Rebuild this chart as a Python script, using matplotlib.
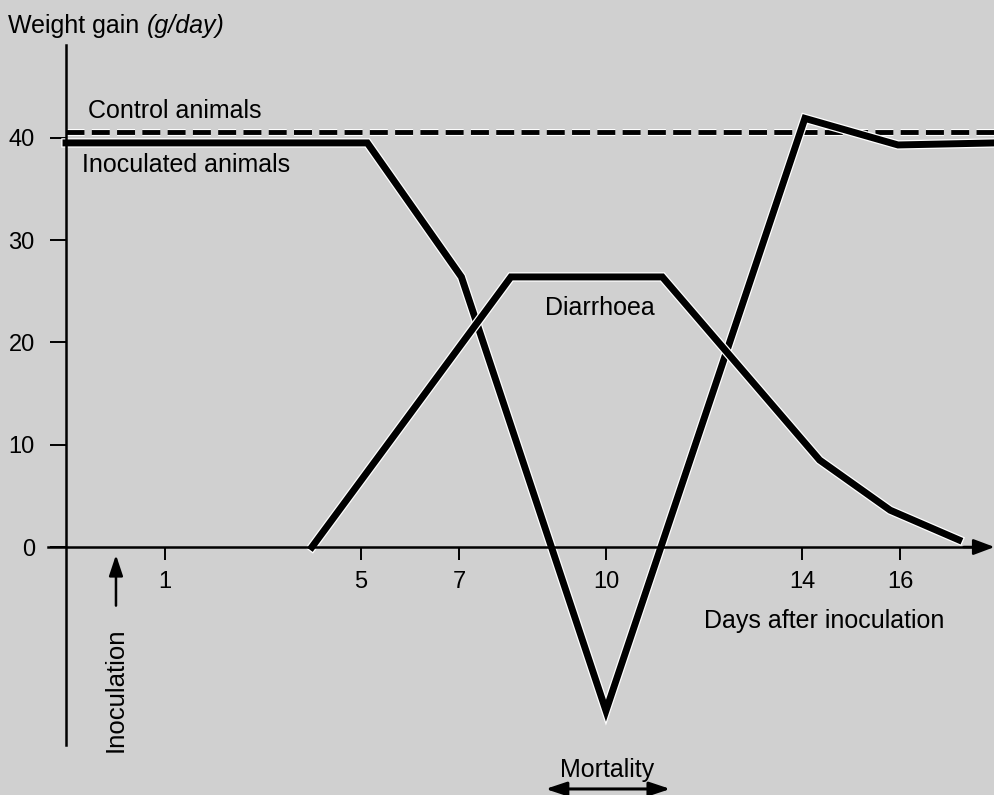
import matplotlib.pyplot as plt
import matplotlib.patheffects as pe

# data (days after inoculation, weight gain g/day)
dias_inoc = [-1.02, 5.13, 7.05, 10.0, 14.06, 15.96, 17.94]
ganho_inoc = [39.5, 39.5, 26.4, -16.0, 41.9, 39.3, 39.5]

dias_diar = [4.0, 8.06, 11.15, 14.36, 15.8, 17.2]
ganho_diar = [0.0, 26.4, 26.4, 8.5, 3.6, 0.7]

dias_ctrl = [-1.02, 17.94]
ganho_ctrl = [40.6, 40.6]

xticks = [1, 5, 7, 10, 14, 16]
yticks = [0, 10, 20, 30, 40]

fundo = '#d0d0d0'
plt.rcParams['font.family'] = ['Liberation Sans', 'DejaVu Sans']

fig = plt.figure(figsize=(9.95, 7.95), dpi=100, facecolor=fundo)
ax = fig.add_axes([0, 0, 1, 1], facecolor=fundo)
ax.set_xlim(-2.367, 17.94)
ax.set_ylim(-24.24, 53.47)

halo = [pe.Stroke(linewidth=6.8, foreground='white'), pe.Normal()]

# curves
ax.plot(dias_ctrl, ganho_ctrl, color='k', lw=3.5, dashes=(3.7, 1.5),
        path_effects=[pe.Stroke(linewidth=5, foreground='white'), pe.Normal()])
ax.plot(dias_inoc, ganho_inoc, color='k', lw=5, solid_joinstyle='miter',
        path_effects=halo)
ax.plot(dias_diar, ganho_diar, color='k', lw=5, solid_joinstyle='miter',
        path_effects=halo)

# axes drawn like the book figure
for s in ['top', 'right']:
    ax.spines[s].set_visible(False)
ax.spines['left'].set_position(('data', -1.02))
ax.spines['left'].set_bounds(-19.4, 49.1)
ax.spines['bottom'].set_position(('data', 0))
ax.spines['bottom'].set_bounds(-1.39, 17.6)
ax.spines['left'].set_linewidth(1.8)
ax.spines['bottom'].set_linewidth(1.8)

ax.set_xticks(xticks)
ax.set_yticks(yticks)
ax.tick_params(axis='y', direction='out', length=11.5, width=1.4, pad=11,
               labelsize=17)
ax.tick_params(axis='x', direction='out', length=9, width=1.4, pad=8,
               labelsize=17)

# arrow at end of x axis
ax.annotate('', xy=(17.93, 0), xytext=(17.3, 0), annotation_clip=False,
            arrowprops=dict(arrowstyle='-|>,head_length=0.8,head_width=0.3',
                            lw=1.8, color='k', mutation_scale=16,
                            shrinkA=0, shrinkB=0))

# labels
ax.text(-2.2, 50.24, 'Weight gain ', fontsize=18, va='baseline', ha='left')
ax.text(0.62, 50.24, '(g/day)', fontsize=18, va='baseline', ha='left',
        style='italic')
ax.text(-0.57, 41.94, 'Control animals', fontsize=18, va='baseline')
ax.text(-0.69, 36.66, 'Inoculated animals', fontsize=18, va='baseline')
ax.text(8.76, 22.68, 'Diarrhoea', fontsize=18, va='baseline')
ax.text(12.0, -7.92, 'Days after inoculation', fontsize=18, va='baseline')
ax.text(10.02, -22.48, 'Mortality', fontsize=18, va='baseline', ha='center')
ax.text(0.0, -13.98, 'Inoculation', fontsize=18.5, rotation=90,
        ha='center', va='center')

# inoculation arrow
ax.annotate('', xy=(0, -0.5), xytext=(0, -6.0),
            arrowprops=dict(arrowstyle='-|>,head_length=0.9,head_width=0.3',
                            lw=1.8, color='k', mutation_scale=14))

# mortality double arrow
ax.annotate('', xy=(8.71, -23.65), xytext=(11.37, -23.65),
            annotation_clip=False,
            arrowprops=dict(arrowstyle='<|-|>,head_length=0.9,head_width=0.3',
                            lw=2.2, color='k', mutation_scale=14))

fig.savefig('out.png', dpi=100, facecolor=fundo)
